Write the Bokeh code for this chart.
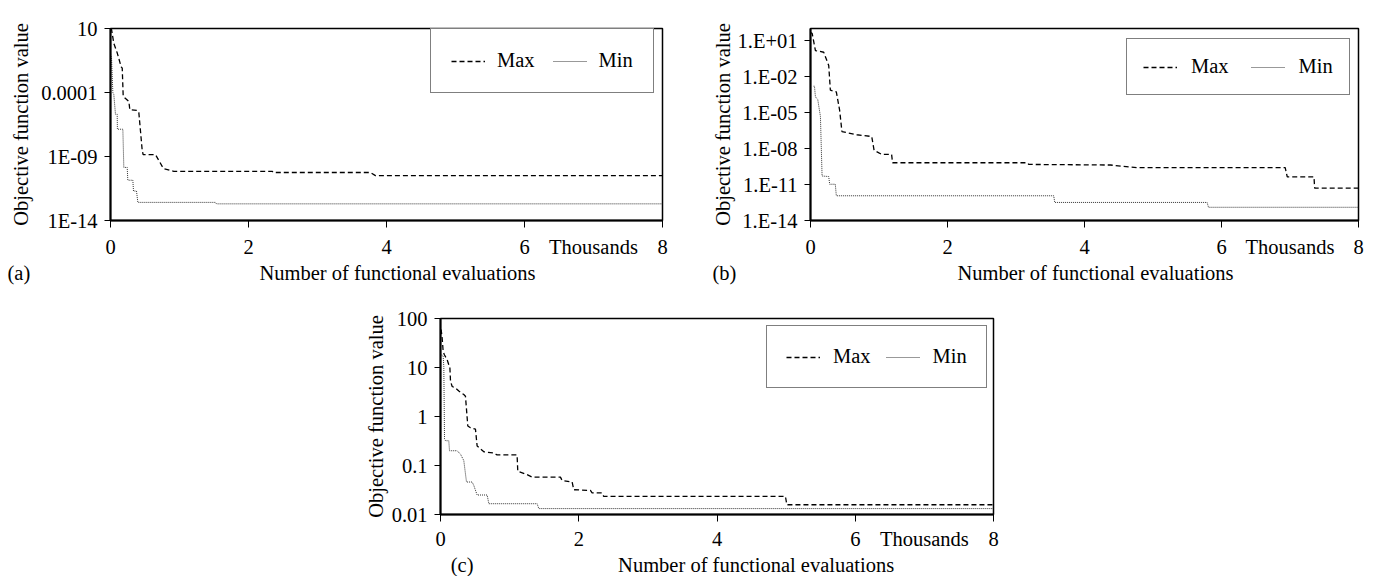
import json
from bokeh.plotting import figure
from bokeh.models import (Range1d, FixedTicker, CustomJSTickFormatter, Legend,
                          LegendItem, Spacer)
from bokeh.layouts import row, column
from bokeh.core.properties import value
from bokeh.embed import file_html
from bokeh.resources import INLINE

FONT = "Liberation Serif"
FS = "20.5px"

# ---------------- data (x in thousands of functional evaluations) -------------
a_max_x = [0.00, 0.015, 0.048, 0.097, 0.155, 0.170, 0.184, 0.266, 0.280, 0.386, 0.410,
           0.459, 0.473, 0.652, 0.749, 0.773, 0.918, 2.343, 2.367, 3.768, 3.840, 8.00]
a_max_y = [10, 8.5, 0.68, 0.126, 0.01, 0.008, 5e-5, 2e-5, 4.5e-6, 4e-6, 3e-6,
           3.2e-9, 1.4e-9, 1.4e-9, 1.7e-10, 1.1e-10, 7e-11, 7e-11, 5.6e-11, 5.6e-11, 3.2e-11, 3.2e-11]
a_min_x = [0.0, 0.015, 0.034, 0.048, 0.072, 0.097, 0.100, 0.179, 0.193, 0.242, 0.251,
           0.324, 0.333, 0.377, 0.396, 1.52, 1.536, 8.0]
a_min_y = [0.1, 0.05, 1e-4, 7e-5, 2e-6, 2e-6, 1.35e-7, 1.35e-7, 1.4e-10, 1.4e-10, 1.4e-11,
           1.4e-11, 2e-12, 2e-12, 2.6e-13, 2.6e-13, 2e-13, 2e-13]

b_max_x = [0.0, 0.024, 0.072, 0.193, 0.266, 0.29, 0.377, 0.425, 0.459, 0.676, 0.894, 0.928,
           1.039, 1.184, 1.198, 3.164, 3.188, 4.38, 4.77, 6.93, 6.96, 7.35, 7.36, 8.0]
b_max_y = [45, 40, 1.45, 1.05, 0.083, 7.2e-4, 5.2e-4, 1.6e-5, 2.6e-7, 1.4e-7, 1.0e-7, 7.2e-9,
           3.2e-9, 3.2e-9, 6.5e-10, 6.5e-10, 4.7e-10, 4.2e-10, 2.5e-10, 2.5e-10, 4.3e-11, 4.3e-11,
           5e-12, 5e-12]
b_min_x = [0.045, 0.058, 0.072, 0.106, 0.145, 0.169, 0.266, 0.28, 0.362, 0.377, 3.551, 3.565,
           5.79, 5.81, 8.0]
b_min_y = [1.55e-3, 1.55e-3, 2.0e-4, 1.2e-4, 4.6e-6, 5.1e-11, 4.6e-11, 1.05e-11, 1.05e-11,
           1.15e-12, 1.15e-12, 3.2e-13, 3.2e-13, 1.26e-13, 1.26e-13]

c_max_x = [0.0, 0.01, 0.024, 0.039, 0.058, 0.096, 0.12, 0.135, 0.145, 0.169, 0.217, 0.265,
           0.337, 0.361, 0.395, 0.434, 0.506, 0.53, 0.554, 0.627, 0.771, 0.819, 1.108, 1.118,
           1.253, 1.325, 1.735, 1.759, 1.904, 1.928, 2.169, 2.193, 2.337, 2.361, 4.99, 5.01, 8.0]
c_max_y = [60, 58, 40, 21, 18, 14.4, 11.4, 10.5, 5.2, 4.1, 3.8, 3.3, 2.8, 2.6, 0.64, 0.59,
           0.55, 0.25, 0.234, 0.19, 0.18, 0.164, 0.164, 0.076, 0.065, 0.058, 0.058, 0.0495,
           0.046, 0.032, 0.031, 0.0275, 0.0275, 0.0234, 0.0234, 0.0158, 0.0158]
c_min_x = [0.015, 0.024, 0.039, 0.048, 0.058, 0.072, 0.12, 0.13, 0.241, 0.289, 0.337, 0.376,
           0.458, 0.482, 0.53, 0.675, 0.699, 1.398, 1.422, 8.0]
c_min_y = [18, 18, 16.7, 10.5, 0.35, 0.32, 0.32, 0.2, 0.2, 0.17, 0.126, 0.046, 0.046, 0.039,
           0.025, 0.025, 0.0166, 0.0166, 0.0132, 0.0132]

x_tick_values = [0, 2, 4, 6, 8]
unit_tick = 7
unit_label = "Thousands"
a_y_exps = [1, -4, -9, -14]
a_y_labels = ["10", "0.0001", "1E-09", "1E-14"]
b_y_exps = [1, -2, -5, -8, -11, -14]
b_y_labels = ["1.E+01", "1.E-02", "1.E-05", "1.E-08", "1.E-11", "1.E-14"]
c_y_exps = [2, 1, 0, -1, -2]
c_y_labels = ["100", "10", "1", "0.1", "0.01"]

series_names = ["Max", "Min"]
panel_tags = ["(a)", "(b)", "(c)"]
x_title = "Number of functional evaluations"
y_title = "Objective function value"


def log_formatter(exps, labels):
    code = (
        "const exps = %s; const labels = %s;"
        "const e = Math.round(Math.log10(tick));"
        "const i = exps.indexOf(e);"
        "return i >= 0 ? labels[i] : '';"
    ) % (json.dumps(exps), json.dumps(labels))
    return CustomJSTickFormatter(code=code)


def x_formatter():
    code = (
        "if (Math.abs(tick - %s) < 1e-9) { return %s; }"
        "return String(tick);"
    ) % (json.dumps(unit_tick), json.dumps(unit_label))
    return CustomJSTickFormatter(code=code)


def panel(width, height, bl, br, bt, bb, ylo, yhi, exps, labels,
          mx, my, nx, ny, ylab_standoff, xlab_standoff,
          leg_loc, leg_pad, leg_spacing, leg_standoff):
    p = figure(width=width, height=height, x_range=Range1d(0, 8),
               y_range=Range1d(10 ** ylo, 10 ** yhi), y_axis_type="log",
               output_backend="svg", toolbar_location=None,
               min_border_left=bl, min_border_right=br,
               min_border_top=bt, min_border_bottom=bb)
    p.xgrid.visible = False
    p.ygrid.visible = False
    p.background_fill_color = "white"
    p.border_fill_color = "white"
    p.outline_line_color = "black"
    p.outline_line_width = 1.5

    for ax in (p.xaxis[0], p.yaxis[0]):
        ax.axis_line_color = "black"
        ax.axis_line_width = 2
        ax.major_tick_line_color = "black"
        ax.major_tick_line_width = 1
        ax.major_tick_in = 0
        ax.minor_tick_line_color = None
        ax.major_label_text_font = FONT
        ax.major_label_text_font_size = FS
        ax.major_label_text_color = "black"

    # x axis: tick marks at 0,2,..,8 (as minor ticks), labels incl. the unit label
    p.xaxis.ticker = FixedTicker(ticks=x_tick_values + [unit_tick],
                                 minor_ticks=x_tick_values)
    p.xaxis.formatter = x_formatter()
    p.xaxis.major_tick_line_color = None
    p.xaxis.major_tick_out = 7
    p.xaxis.minor_tick_line_color = "black"
    p.xaxis.minor_tick_line_width = 1
    p.xaxis.minor_tick_out = 7
    p.xaxis.minor_tick_in = 0
    p.xaxis.major_label_standoff = xlab_standoff

    p.yaxis.ticker = FixedTicker(ticks=[10 ** e for e in exps])
    p.yaxis.formatter = log_formatter(exps, labels)
    p.yaxis.major_tick_out = 6
    p.yaxis.major_label_standoff = 7
    p.yaxis.axis_label = y_title
    p.yaxis.axis_label_text_font = FONT
    p.yaxis.axis_label_text_font_size = FS
    p.yaxis.axis_label_text_font_style = "normal"
    p.yaxis.axis_label_text_color = "black"
    p.yaxis.axis_label_standoff = ylab_standoff

    r1 = p.line(mx, my, line_color="black", line_dash="5 3", line_width=1.3)
    r2 = p.line(nx, ny, line_color="#333333", line_dash="1 1", line_width=1)

    leg = Legend(items=[LegendItem(label=series_names[0], renderers=[r1]),
                        LegendItem(label=series_names[1], renderers=[r2])],
                 orientation="horizontal", location=leg_loc, margin=0,
                 padding=leg_pad, spacing=leg_spacing, label_standoff=leg_standoff,
                 glyph_width=34, glyph_height=20,
                 border_line_color="black", border_line_width=1,
                 background_fill_color="white", background_fill_alpha=1,
                 label_text_font=FONT, label_text_font_size=FS,
                 label_text_color="black")
    p.add_layout(leg)
    return p


def strip(width, height, frame_left, ppx, tag, tag_x, tag_mid, title_x, title_mid):
    """Thin text strip below a panel; x mapped like the panel above (thousands).
    tag_mid / title_mid: vertical centre of the text, in px from the strip top."""
    s = figure(width=width, height=height,
               x_range=Range1d(-frame_left / ppx, (width - frame_left) / ppx),
               y_range=Range1d(0, height), output_backend="svg",
               toolbar_location=None, min_border=0,
               x_axis_type=None, y_axis_type=None)
    s.outline_line_color = None
    s.background_fill_color = "white"
    s.border_fill_color = "white"
    s.text(x=[tag_x], y=[height - tag_mid], text=[tag], text_font=value(FONT),
           text_font_size=value(FS), text_align="left", text_baseline="middle",
           text_color="black")
    s.text(x=[title_x], y=[height - title_mid], text=[x_title], text_font=value(FONT),
           text_font_size=value(FS), text_align="center", text_baseline="middle",
           text_color="black")
    return s


# panel (a): canvas x 0..698, frame 110..662 (x), 17..222 (y)
pa = panel(698, 260, 110, 36, 17, 38, -14, 1, a_y_exps, a_y_labels,
           a_max_x, a_max_y, a_min_x, a_min_y, 6, 8,
           (320, 127), 20, 18, 12)
# panel (b): canvas x 698..1369, frame 810..1358, 28..222
pb = panel(671, 260, 112, 11, 28, 38, -14, 2, b_y_exps, b_y_labels,
           b_max_x, b_max_y, b_min_x, b_min_y, 1, 8,
           (316, 125), 16, 22, 14)
# panel (c): canvas x 360..1010, y 285..552, frame 440..993, 318..516
pc = panel(650, 267, 80, 17, 33, 36, -2, 2, c_y_exps, c_y_labels,
           c_max_x, c_max_y, c_min_x, c_min_y, 2, 6,
           (326, 126), 19, 15, 13)

sa = strip(698, 25, 110, 69.0, panel_tags[0], (7 - 110) / 69.0, 272 - 260,
           (397 - 110) / 69.0, 272 - 260)
sb = strip(671, 25, 112, 68.5, panel_tags[1], (712 - 810) / 68.5, 272 - 260,
           (1095 - 810) / 68.5, 272 - 260)
sc = strip(650, 24, 80, 69.125, panel_tags[2], (372 - 440) / 69.125, 564 - 552,
           (731 - 440) / 69.125, 564 - 552)

layout = column(row(pa, pb), row(sa, sb),
                row(Spacer(width=360, height=10), column(pc, sc)))

with open("out.html", "w") as f:
    f.write(file_html(layout, INLINE))
